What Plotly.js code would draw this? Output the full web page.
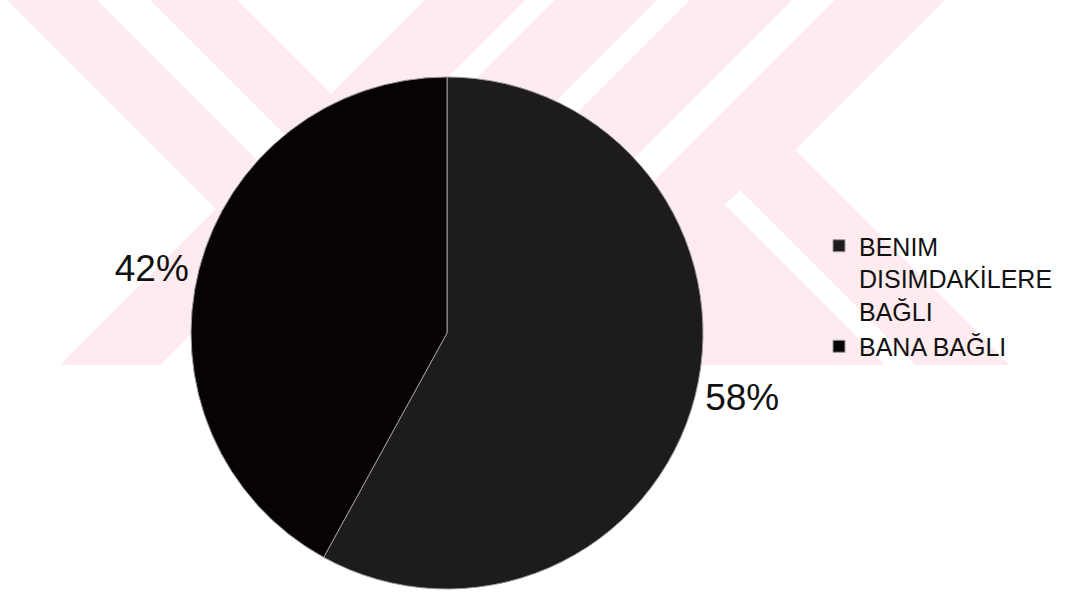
<!DOCTYPE html>
<html>
<head>
<meta charset="utf-8">
<script src="https://cdn.plot.ly/plotly-3.0.1.min.js"></script>
<style>
  html, body { margin: 0; padding: 0; background: #ffffff; }
  #chart { width: 1082px; height: 593px; }
</style>
</head>
<body>
<div id="chart"></div>
<script>
// ---- data ----
const labels = ["BENIM<br>DISIMDAKİLERE<br>BAĞLI", "BANA BAĞLI"];
const values = [58, 42];
const sliceColors = ["#1d1b1c", "#070304"];

// ---- decorative background watermark (pixel polygons, converted to paper coords) ----
const W = 1082, H = 593;
function pathFrom(pts) {
  return pts.map((p, i) => (i ? "L" : "M") + (p[0] / W).toFixed(4) + "," + (1 - p[1] / H).toFixed(4)).join(" ") + " Z";
}
const pink = "#fdebef";
const wmPolys = [
  [[7,0],[97,0],[311,214],[266,259]],
  [[150,0],[237,0],[447,210],[403.5,253.5]],
  [[425,0],[525,0],[160,365],[60,365]],
  [[555,0],[657,0],[292,365],[190,365]],
  [[690,0],[792,0],[427,365],[325,365]],
  [[835,0],[945,0],[795,150],[1010,365],[470,365]]
];
const shapes = wmPolys.map(p => ({
  type: "path", xref: "paper", yref: "paper", path: pathFrom(p),
  fillcolor: pink, line: {width: 0}, layer: "below"
}));
shapes.push({
  type: "path", xref: "paper", yref: "paper",
  path: pathFrom([[725,205],[740,190],[915,365],[885,365]]),
  fillcolor: "#ffffff", line: {width: 0}, layer: "below"
});

const trace = {
  type: "pie",
  labels: labels,
  values: values,
  sort: false,
  direction: "clockwise",
  rotation: 0,
  textinfo: "percent",
  textposition: "outside",
  textfont: {family: "Liberation Sans, Arial, sans-serif", size: 37, color: "#111111"},
  marker: {colors: sliceColors, line: {color: "#9a9a9a", width: 1}},
  domain: {x: [191 / W, 703 / W], y: [1 - 589 / H, 1 - 77 / H]},
  hoverinfo: "label+percent"
};

const layout = {
  width: W, height: H,
  margin: {l: 0, r: 0, t: 0, b: 0},
  paper_bgcolor: "#ffffff",
  plot_bgcolor: "#ffffff",
  showlegend: true,
  legend: {
    x: 819 / W, xanchor: "left",
    y: 1 - 223 / H, yanchor: "top",
    valign: "top",
    bgcolor: "rgba(0,0,0,0)",
    font: {family: "Liberation Sans, Arial, sans-serif", size: 25, color: "#111111"},
    traceorder: "normal"
  },
  shapes: shapes
};

Plotly.newPlot("chart", [trace], layout, {displayModeBar: false, staticPlot: true});
</script>
</body>
</html>
